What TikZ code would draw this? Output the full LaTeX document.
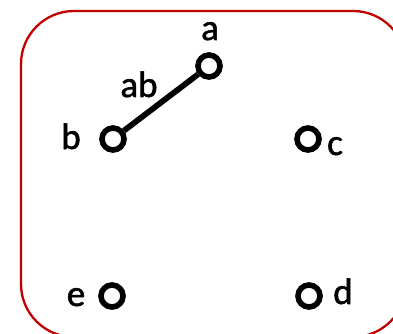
\documentclass[tikz,border=0pt]{standalone}
\usepackage{fontspec}
\setmainfont{Carlito}[FakeBold=1.4]
\definecolor{frame}{HTML}{C00000}
\begin{document}
\begin{tikzpicture}[x=1pt,y=-1pt,
  vertex/.style={circle,draw=black,line width=5.6pt,fill=white,minimum size=22pt,inner sep=0pt},
  lbl/.style={font=\fontsize{37}{37}\selectfont,inner sep=0pt,anchor=base},
  edgeline/.style={line width=5.8pt,black},
  framebox/.style={draw=frame,line width=2.3pt,rounded corners=53pt}]
\useasboundingbox (0,0) rectangle (393,334);
\begin{scope}
\clip (0,0) rectangle (393,334);
\draw[framebox] (21,11) rectangle (406,337);
\end{scope}
\node[vertex] (a) at (209,66) {};
\node[vertex] (b) at (113,139) {};
\node[vertex] (c) at (308,139) {};
\node[vertex] (e) at (112,296) {};
\node[vertex] (d) at (309,296) {};
\draw[edgeline] (a) -- (b);
\node[lbl] (la) at (210,40) {a};
\node[lbl] (lab) at (139,97) {ab};
\node[lbl] (lb) at (71,149) {b};
\node[lbl] (lc) at (335,155) {c};
\node[lbl] (le) at (76,306) {e};
\node[lbl] (ld) at (343,304) {d};
\end{tikzpicture}
\end{document}
